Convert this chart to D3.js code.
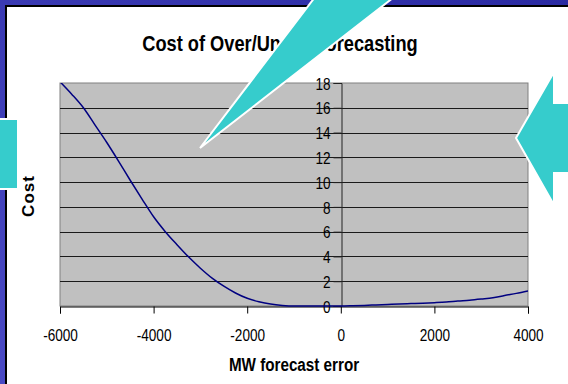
<!DOCTYPE html>
<html><head><meta charset="utf-8">
<script src="https://cdn.jsdelivr.net/npm/d3@7"></script>
<style>html,body{margin:0;padding:0;overflow:hidden;background:#fff}</style>
</head><body>
<svg id="c" width="568" height="384"></svg>
<script>
const titleText = "Cost of Over/Under Forecasting";
const xLabel = "MW forecast error";
const yLabel = "Cost";
const xTicks = [-6000, -4000, -2000, 0, 2000, 4000];
const yTicks = [0, 2, 4, 6, 8, 10, 12, 14, 16, 18];
const errorMW = [-6000,-5750,-5500,-5250,-5000,-4750,-4500,-4250,-4000,-3750,-3500,-3250,-3000,-2750,-2500,-2250,-2000,-1750,-1500,-1250,-1000,-750,-500,-250,0,250,500,750,1000,1250,1500,1750,2000,2250,2500,2750,3000,3250,3500,3750,4000];
const cost = [18.1,17.1,16.0,14.6,13.2,11.7,10.15,8.65,7.2,6.0,4.95,3.95,3.05,2.25,1.6,1.05,0.62,0.35,0.16,0.05,0.0,0.0,0.0,0.0,0.0,0.02,0.05,0.09,0.13,0.17,0.2,0.23,0.27,0.32,0.4,0.47,0.56,0.66,0.85,1.02,1.22];

const svg = d3.select("#c");
const defs = svg.append("defs");
const g1 = defs.append("linearGradient").attr("id","bg").attr("x1","0").attr("y1","1").attr("x2","1").attr("y2","0");
g1.append("stop").attr("offset","0").attr("stop-color","#4a4ac4");
g1.append("stop").attr("offset","1").attr("stop-color","#2a2aa2");
svg.append("rect").attr("width",568).attr("height",384).attr("fill","url(#bg)");
svg.append("rect").attr("x",5).attr("y",5).attr("width",563).attr("height",379).attr("fill","#000");
svg.append("rect").attr("x",7).attr("y",7).attr("width",561).attr("height",377).attr("fill","#fff");

const x = d3.scaleLinear().domain([-6000,4000]).range([60,528]);
const y = d3.scaleLinear().domain([0,18]).range([306,83]);

// plot area
svg.append("rect").attr("x",x(-6000)).attr("y",y(18)).attr("width",x(4000)-x(-6000)).attr("height",y(0)-y(18))
  .attr("fill","#c0c0c0").attr("stroke","#808080").attr("stroke-width",1);

// gridlines
svg.append("g").selectAll("line").data(yTicks.filter(d=>d>0 && d<18)).join("line")
  .attr("x1",x(-6000)).attr("x2",x(4000)).attr("y1",d=>Math.round(y(d))+0.5).attr("y2",d=>Math.round(y(d))+0.5)
  .attr("stroke","#1a1a1a").attr("stroke-width",1);

const fontF = "Arial, 'Liberation Sans', sans-serif";
const sx = 0.8;
const fmt = d => String(d);

// x axis
const xa = svg.append("g").attr("transform",`translate(0,${Math.round(y(0))+0.5})`)
  .call(d3.axisBottom(x).tickValues(xTicks).tickSize(7).tickFormat(fmt));
xa.select(".domain").attr("stroke","#000");
xa.selectAll(".tick line").attr("stroke","#000");
xa.selectAll(".tick text").attr("fill","#000").attr("font-family",fontF).attr("font-size",17)
  .attr("y",0).attr("dy",0).attr("transform",`translate(0,34) scale(${sx},1)`);

// y axis
const ya = svg.append("g").attr("transform",`translate(${Math.round(x(0))+0.5},0)`)
  .call(d3.axisLeft(y).tickValues(yTicks).tickSize(8).tickFormat(fmt));
ya.select(".domain").attr("stroke","#222");
ya.selectAll(".tick line").attr("stroke","#222");
ya.selectAll(".tick text").attr("fill","#000").attr("font-family",fontF).attr("font-size",17)
  .attr("x",-11/sx).attr("dy","0.36em").attr("transform",`scale(${sx},1)`);

// curve
defs.append("clipPath").attr("id","clip").append("rect").attr("x",x(-6000)).attr("y",y(18)).attr("width",x(4000)-x(-6000)).attr("height",y(0)-y(18)+2);
svg.append("path").datum(errorMW.map((d,i)=>[d,cost[i]]))
  .attr("clip-path","url(#clip)")
  .attr("d",d3.line().x(d=>x(d[0])).y(d=>y(d[1])).curve(d3.curveMonotoneX))
  .attr("fill","none").attr("stroke","#000080").attr("stroke-width",1.5);

// title
svg.append("text").attr("transform","translate(280,51) scale(0.81,1)")
  .attr("text-anchor","middle").attr("font-family",fontF).attr("font-weight","bold").attr("font-size",22.5)
  .attr("fill","#000").text(titleText);
// x label
svg.append("text").attr("transform",`translate(${(x(-6000)+x(4000))/2},371) scale(0.87,1)`)
  .attr("text-anchor","middle").attr("font-family",fontF).attr("font-weight","bold").attr("font-size",17.5)
  .attr("fill","#000").text(xLabel);
// y label
svg.append("text").attr("transform","translate(34,196) rotate(-90)")
  .attr("text-anchor","middle").attr("font-family",fontF).attr("font-weight","bold").attr("font-size",17)
  .attr("letter-spacing",1).attr("fill","#000").text(yLabel);

// callout shapes
const turq = "#36cccc";
svg.append("polygon").attr("points","200,148 328,-20 416,-20")
  .attr("fill",turq).attr("stroke","#fff").attr("stroke-width",2).attr("stroke-linejoin","miter");
svg.append("rect").attr("x",-5).attr("y",119).attr("width",23).attr("height",70)
  .attr("fill",turq).attr("stroke","#fff").attr("stroke-width",2);
svg.append("polygon").attr("points","516,138 554,72 554,103 580,103 580,173 554,173 554,205")
  .attr("fill",turq).attr("stroke","#fff").attr("stroke-width",2);
</script>
</body></html>
